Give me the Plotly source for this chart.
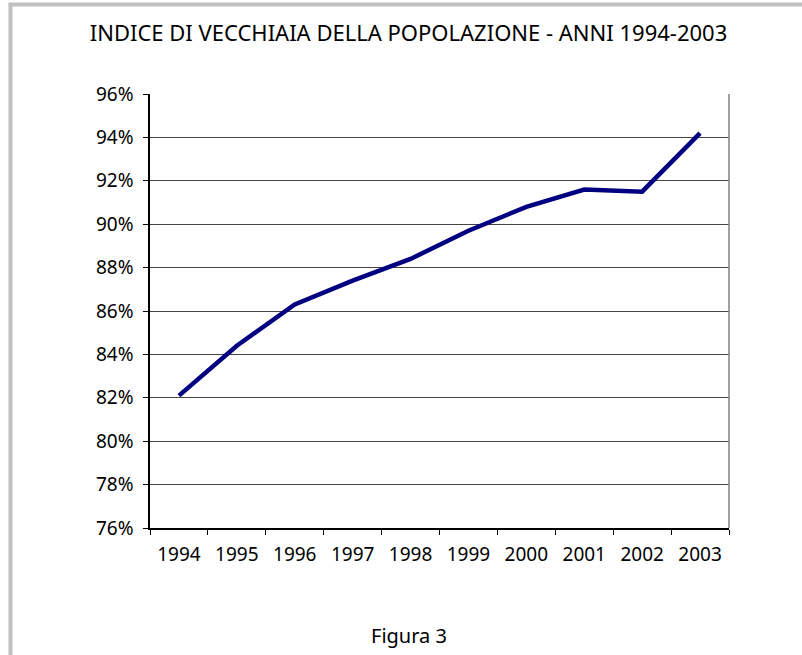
import plotly.graph_objects as go

years = ["1994", "1995", "1996", "1997", "1998", "1999", "2000", "2001", "2002", "2003"]
indice = [0.821, 0.844, 0.863, 0.874, 0.884, 0.897, 0.908, 0.916, 0.915, 0.942]
y_ticks = [0.76, 0.78, 0.80, 0.82, 0.84, 0.86, 0.88, 0.90, 0.92, 0.94, 0.96]

W, H = 802, 655
L, R, T, B = 150, 729, 94, 528
FONT = "Noto Sans"
FS = 19

fig = go.Figure()
fig.add_trace(go.Scatter(
    x=years, y=indice, mode="lines",
    line=dict(color="#000080", width=4.5),
    showlegend=False, hoverinfo="skip",
))

pw, ph = R - L, B - T
def px(x):
    return (x - L) / pw
def py(y):
    return (B - y) / ph

shapes = [
    dict(type="line", xref="paper", yref="paper", x0=px(10.5), x1=px(10.5), y0=py(4.5), y1=py(700),
         line=dict(color="#c0c0c0", width=4)),
    dict(type="line", xref="paper", yref="paper", x0=px(8.5), x1=px(850), y0=py(4.5), y1=py(4.5),
         line=dict(color="#c0c0c0", width=4)),
    dict(type="line", xref="paper", yref="paper", x0=1, x1=1, y0=0, y1=1,
         line=dict(color="#808080", width=1.5)),
]

fig.update_layout(
    width=W, height=H,
    margin=dict(l=L, r=W - R, t=T, b=H - B),
    paper_bgcolor="white", plot_bgcolor="white",
    font=dict(family=FONT, size=FS, color="black"),
    title=dict(text="INDICE DI VECCHIAIA DELLA POPOLAZIONE - ANNI 1994-2003",
               x=px(408.5), xref="paper", xanchor="center",
               y=1 - 33 / H, yref="container", yanchor="middle",
               font=dict(family=FONT, size=22, color="black")),
    xaxis=dict(type="category", range=[-0.5, 9.5], tickson="boundaries", ticks="outside", ticklen=5,
               tickcolor="black", showline=True, linecolor="black", linewidth=1.5,
               showgrid=False, zeroline=False, ticklabelstandoff=8,
               tickfont=dict(family=FONT, size=FS)),
    yaxis=dict(range=[0.76, 0.96], tickvals=y_ticks, tickformat=".0%",
               ticks="outside", ticklen=5, tickcolor="black",
               showline=True, linecolor="black", linewidth=1.5,
               showgrid=True, gridcolor="#444444", gridwidth=1,
               zeroline=False, ticklabelstandoff=6,
               tickfont=dict(family=FONT, size=FS)),
    shapes=shapes,
    annotations=[dict(text="Figura 3", xref="paper", yref="paper",
                      x=px(409), y=py(635), xanchor="center", yanchor="middle",
                      showarrow=False, font=dict(family=FONT, size=20, color="black"))],
)

fig.write_html("out.html", config={"displayModeBar": False},
               post_script="document.body.style.margin='0';document.body.style.overflow='hidden';")
